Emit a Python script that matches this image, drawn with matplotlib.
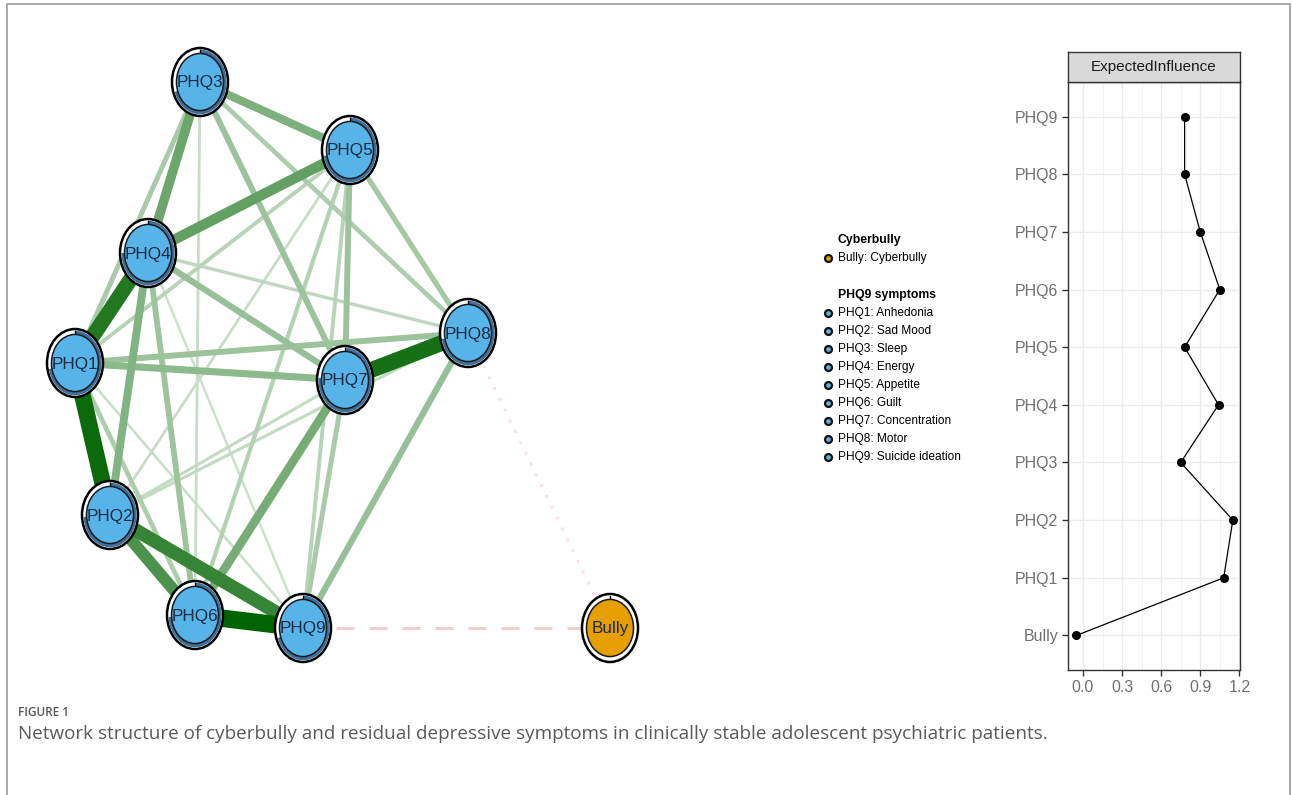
import matplotlib
matplotlib.use("Agg")
import matplotlib.pyplot as plt
from matplotlib.patches import Ellipse, Wedge
from matplotlib.lines import Line2D
from matplotlib.ticker import MultipleLocator
import numpy as np

# network nodes and layout (canvas units)
nodes = ["PHQ1", "PHQ2", "PHQ3", "PHQ4", "PHQ5", "PHQ6", "PHQ7", "PHQ8", "PHQ9", "Bully"]
layout_x = [75, 110, 200, 148, 350, 195, 345, 468, 303, 610]
layout_y = [363, 515, 82, 253, 150, 615, 380, 333, 628, 628]
predictability = [0.72, 0.74, 0.70, 0.75, 0.72, 0.74, 0.76, 0.72, 0.70, 0.0]
node_colors = ["#56B4E9"] * 9 + ["#E69F00"]

# edges: from, to, relative weight (negative = dashed red)
edge_from = ["PHQ6", "PHQ1", "PHQ7", "PHQ1", "PHQ2", "PHQ2", "PHQ4", "PHQ3", "PHQ6",
             "PHQ3", "PHQ2", "PHQ1", "PHQ4", "PHQ8", "PHQ1", "PHQ3", "PHQ5", "PHQ4",
             "PHQ5", "PHQ1", "PHQ7", "PHQ1", "PHQ3", "PHQ5", "PHQ5", "PHQ1", "PHQ4",
             "PHQ2", "PHQ2", "PHQ3", "PHQ2", "PHQ1", "PHQ4", "PHQ9", "PHQ8"]
edge_to = ["PHQ9", "PHQ2", "PHQ8", "PHQ4", "PHQ9", "PHQ6", "PHQ5", "PHQ4", "PHQ7",
           "PHQ5", "PHQ4", "PHQ7", "PHQ7", "PHQ9", "PHQ8", "PHQ7", "PHQ7", "PHQ6",
           "PHQ8", "PHQ3", "PHQ9", "PHQ6", "PHQ8", "PHQ6", "PHQ9", "PHQ5", "PHQ8",
           "PHQ7", "PHQ8", "PHQ6", "PHQ5", "PHQ9", "PHQ9", "Bully", "Bully"]
edge_weight = [1.0, 0.95, 0.9, 0.85, 0.75, 0.65, 0.55, 0.5, 0.45,
               0.42, 0.4, 0.35, 0.3, 0.3, 0.28, 0.28, 0.28, 0.27,
               0.24, 0.22, 0.22, 0.2, 0.2, 0.17, 0.15, 0.15, 0.12,
               0.1, 0.1, 0.08, 0.08, 0.07, 0.06, -0.12, -0.03]

# legend entries
legend_groups = ["Cyberbully", "PHQ9 symptoms"]
legend_items = [["Bully: Cyberbully"],
                ["PHQ1: Anhedonia", "PHQ2: Sad Mood", "PHQ3: Sleep", "PHQ4: Energy",
                 "PHQ5: Appetite", "PHQ6: Guilt", "PHQ7: Concentration", "PHQ8: Motor",
                 "PHQ9: Suicide ideation"]]
legend_colors = ["#E69F00", "#56B4E9"]

# centrality (expected influence)
ei_labels = ["Bully", "PHQ1", "PHQ2", "PHQ3", "PHQ4", "PHQ5", "PHQ6", "PHQ7", "PHQ8", "PHQ9"]
ei_values = [-0.05, 1.08, 1.15, 0.75, 1.04, 0.78, 1.05, 0.90, 0.78, 0.78]

W, H = 1292, 795
fig = plt.figure(figsize=(W / 100, H / 100), dpi=100)
sans = ["Liberation Sans", "DejaVu Sans"]

ax = fig.add_axes([0, 0, 1, 1])
ax.set_xlim(0, W)
ax.set_ylim(H, 0)
ax.axis("off")

pos = {n: (x, y) for n, x, y in zip(nodes, layout_x, layout_y)}
green = np.array([0, 100, 0]) / 255
red = np.array([200, 30, 30]) / 255

order = np.argsort(np.abs(edge_weight))
for i in order:
    a, b, w = edge_from[i], edge_to[i], edge_weight[i]
    (x0, y0), (x1, y1) = pos[a], pos[b]
    if w > 0:
        k = 0.15 + 0.85 * w
        col = 1 - k + k * green
        ax.plot([x0, x1], [y0, y1], color=col, lw=(1.5 + 16 * w) * 0.72,
                solid_capstyle="butt", zorder=1 + w)
    else:
        k = 0.1 + 1.0 * abs(w)
        col = 1 - k + k * red
        ax.plot([x0, x1], [y0, y1], color=col, lw=3.0 * 0.72,
                ls=(0, (6, 5)) if abs(w) > 0.1 else (0, (1, 3)), zorder=1)

node_w, node_h = 56, 68
for n, c, p in zip(nodes, node_colors, predictability):
    x, y = pos[n]
    ax.add_patch(Ellipse((x, y), node_w, node_h, facecolor="white",
                         edgecolor="black", lw=1.8, zorder=5))
    # predictability ring, clockwise from 12 o'clock
    if p > 0:
        ring = Wedge((0, 0), 0.95, 90 - 360 * p, 90, width=0.12,
                     facecolor="#3f6f98", edgecolor="none")
        t = matplotlib.transforms.Affine2D().scale(node_w / 2, -node_h / 2).translate(x, y)
        ring.set_transform(t + ax.transData)
        ring.set_zorder(6)
        ax.add_patch(ring)
    ax.plot([x, x], [y - node_h / 2 * 0.95, y - node_h / 2 * 0.84], color="black", lw=1, zorder=6)
    ax.add_patch(Ellipse((x, y), node_w * 0.84, node_h * 0.84, facecolor=c,
                         edgecolor="#1a1a1a", lw=1.1, zorder=7))
    ax.text(x, y + 1, n, ha="center", va="center", fontsize=12.3,
            color="#1b2a40", family=sans, zorder=8)

# legend
ly = 240
for g, items, c in zip(legend_groups, legend_items, legend_colors):
    ax.text(838, ly, g, fontsize=8.8, fontweight="bold", family=sans, va="center")
    ly += 18
    for it in items:
        ax.plot(828, ly, "o", ms=5, mfc=c, mec="#111", mew=1.6)
        ax.text(838, ly, it, fontsize=8.6, family=sans, va="center")
        ly += 18
    ly += 19

# caption and frame
ax.text(18, 712, "FIGURE 1", fontsize=8.5, color="#555555", family=["Open Sans"],
        fontweight="semibold", va="center")
ax.text(18, 734, "Network structure of cyberbully and residual depressive symptoms in "
        "clinically stable adolescent psychiatric patients.", fontsize=13.6,
        color="#5a5a5a", family=["Open Sans"], va="center")
fig.add_artist(Line2D([7 / W, 7 / W, 1290 / W, 1290 / W], [0, 1 - 3.5 / H, 1 - 3.5 / H, 0],
                      color="#9a9a9a", lw=1.2))

# centrality panel
left, right, top, bottom = 1068, 1240, 82, 670
cx = fig.add_axes([left / W, 1 - bottom / H, (right - left) / W, (bottom - top) / H])
ypos = np.arange(len(ei_labels))
cx.plot(ei_values, ypos, color="black", lw=0.9, marker="o", ms=5.5, zorder=3)
cx.set_xlim(-0.115, 1.205)
cx.set_ylim(-0.6, len(ei_labels) - 0.4)
cx.set_yticks(ypos)
cx.set_yticklabels(ei_labels)
cx.xaxis.set_minor_locator(MultipleLocator(0.15))
cx.set_xticks([0.0, 0.3, 0.6, 0.9, 1.2])
cx.set_xticklabels(["0.0", "0.3", "0.6", "0.9", "1.2"])
cx.grid(True, which="major", color="#ebebeb", lw=1.0)
cx.grid(True, which="minor", axis="x", color="#f2f2f2", lw=0.7)
cx.set_axisbelow(True)
cx.tick_params(which="minor", length=0)
cx.tick_params(which="major", length=4, width=1, color="#333333", labelsize=11.5,
               labelcolor="#707070", pad=3)
for lab in cx.get_xticklabels() + cx.get_yticklabels():
    lab.set_family(sans)
for s in cx.spines.values():
    s.set_color("#333333")
    s.set_linewidth(1.0)

strip_top = 52
sx = fig.add_axes([left / W, 1 - top / H, (right - left) / W, (top - strip_top) / H])
sx.set_facecolor("#d9d9d9")
sx.set_xticks([])
sx.set_yticks([])
for s in sx.spines.values():
    s.set_color("#333333")
    s.set_linewidth(1.0)
sx.text(0.5, 0.5, "ExpectedInfluence", ha="center", va="center", fontsize=11,
        color="#1a1a1a", family=sans, transform=sx.transAxes)

fig.savefig("out.png", dpi=100)
